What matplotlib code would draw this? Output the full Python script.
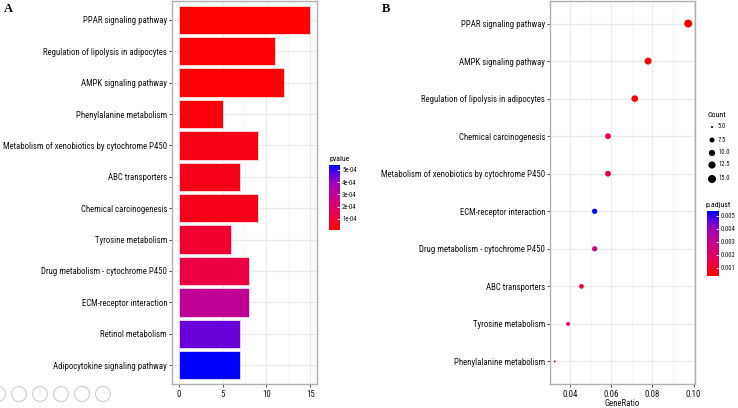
import numpy as np
import matplotlib
matplotlib.use("Agg")
from matplotlib import pyplot as plt
from matplotlib import font_manager
from matplotlib.font_manager import FontProperties
from matplotlib.textpath import TextPath
from matplotlib.colors import LinearSegmentedColormap, Normalize
from matplotlib.cm import ScalarMappable
from matplotlib.patches import Circle
from matplotlib.ticker import MultipleLocator

#-------------数据：A 柱状图-------------
termsA = ["PPAR signaling pathway", "Regulation of lipolysis in adipocytes",
          "AMPK signaling pathway", "Phenylalanine metabolism",
          "Metabolism of xenobiotics by cytochrome P450", "ABC transporters",
          "Chemical carcinogenesis", "Tyrosine metabolism",
          "Drug metabolism - cytochrome P450", "ECM-receptor interaction",
          "Retinol metabolism", "Adipocytokine signaling pathway"]
countA = [15, 11, 12, 5, 9, 7, 9, 6, 8, 8, 7, 7]
pvalueA = [1.0e-5, 2.0e-5, 2.0e-5, 3.0e-5, 4.5e-5, 5.0e-5, 5.5e-5, 9.0e-5,
           1.2e-4, 3.0e-4, 4.5e-4, 5.4e-4]
pticks = [1e-4, 2e-4, 3e-4, 4e-4, 5e-4]
pticklabels = ["1e-04", "2e-04", "3e-04", "4e-04", "5e-04"]

#-------------数据：B 气泡图-------------
termsB = ["PPAR signaling pathway", "AMPK signaling pathway",
          "Regulation of lipolysis in adipocytes", "Chemical carcinogenesis",
          "Metabolism of xenobiotics by cytochrome P450", "ECM-receptor interaction",
          "Drug metabolism - cytochrome P450", "ABC transporters",
          "Tyrosine metabolism", "Phenylalanine metabolism"]
ratioB = [0.0974, 0.0779, 0.0714, 0.0584, 0.0584, 0.0519, 0.0519, 0.0455, 0.0390, 0.0325]
countB = [15, 12, 11, 9, 9, 8, 8, 7, 6, 5]
padjB = [0.00036, 0.00040, 0.00050, 0.00140, 0.00140, 0.00536, 0.00260, 0.00120,
         0.00210, 0.00190]
qticks = [0.001, 0.002, 0.003, 0.004, 0.005]
qticklabels = ["0.001", "0.002", "0.003", "0.004", "0.005"]
count_legend = [5.0, 7.5, 10.0, 12.5, 15.0]

#-------------字体：选较窄的字体，并按参考图中最长标签宽度定字号-------------
fnames = {f.name for f in font_manager.fontManager.ttflist}
fam = "Liberation Sans"
for cand in ["Liberation Sans Narrow", "Roboto Condensed", "Open Sans Condensed", "Roboto"]:
    if cand in fnames:
        fam = cand
        break
plt.rcParams["font.family"] = [fam, "DejaVu Sans"]
w10 = TextPath((0, 0), "Metabolism of xenobiotics by cytochrome P450", size=10,
               prop=FontProperties(family=fam)).get_extents().width
fs = 10 * 164.0 / (w10 * 100 / 72)      # 参考图中该标签宽约 165 px

# ggplot 红->蓝 (Lab 插值近似)
cmap = LinearSegmentedColormap.from_list(
    "rb", ["#FF0000", "#E80050", "#C90089", "#9A00C3", "#0000FF"])

W, H = 738, 408
fig = plt.figure(figsize=(W / 100, H / 100), dpi=100)


def fbox(x0, y0, x1, y1):
    return [x0 / W, 1 - y1 / H, (x1 - x0) / W, (y1 - y0) / H]


def style_axes(ax):
    ax.set_facecolor("white")
    for s in ax.spines.values():
        s.set_color("#b0b0b0")
        s.set_linewidth(1.0)
    ax.grid(True, which="major", color="#ebebeb", linewidth=0.8, zorder=0)
    ax.grid(True, which="minor", axis="x", color="#f2f2f2", linewidth=0.5, zorder=0)
    ax.set_axisbelow(True)
    ax.tick_params(axis="both", which="major", length=2, width=0.6, color="#333333",
                   labelsize=fs, labelcolor="#111111", pad=1.5)
    ax.tick_params(axis="x", which="major", pad=2.0)
    ax.tick_params(axis="both", which="minor", length=0)


#-------------A：柱状图-------------
axA = fig.add_axes(fbox(172, 1, 317, 384))
normA = Normalize(vmin=min(pvalueA), vmax=max(pvalueA))
yA = np.arange(len(termsA))
axA.barh(yA, countA, height=0.9, color=cmap(normA(pvalueA)), edgecolor="#fff0f0",
         linewidth=0.5, zorder=2)
axA.set_yticks(yA)
axA.set_yticklabels(termsA)
axA.set_ylim(len(termsA) - 1 + 0.6, -0.6)
axA.set_xlim(-0.75, 15.75)
axA.set_xticks([0, 5, 10, 15])
axA.xaxis.set_minor_locator(MultipleLocator(2.5))
style_axes(axA)

caxA = fig.add_axes(fbox(329, 165, 340, 230))
cbA = fig.colorbar(ScalarMappable(norm=normA, cmap=cmap), cax=caxA)
cbA.set_ticks(pticks)
cbA.set_ticklabels(pticklabels)
cbA.outline.set_visible(False)
caxA.tick_params(length=2, color="white", width=0.6, direction="in", labelsize=fs * 0.75,
                 pad=1.5, labelcolor="#111111")
fig.text(329 / W, 1 - 161 / H, "pvalue", fontsize=fs * 0.9, ha="left", va="baseline")

#-------------B：气泡图-------------
axB = fig.add_axes(fbox(550, 1, 695, 384))
normB = Normalize(vmin=min(padjB), vmax=max(padjB))


def dot_size(c):
    # 面积比例映射，直径 2~8 px
    d_px = 2.0 + 6.0 * np.sqrt((np.asarray(c, dtype=float) - 5.0) / 10.0)
    return (d_px * 0.72) ** 2


yB = np.arange(len(termsB))
axB.scatter(ratioB, yB, s=dot_size(countB), c=cmap(normB(padjB)), linewidths=0, zorder=3)
axB.set_yticks(yB)
axB.set_yticklabels(termsB)
axB.set_ylim(len(termsB) - 1 + 0.6, -0.6)
axB.set_xlim(0.0302, 0.1007)
axB.set_xticks([0.04, 0.06, 0.08, 0.10])
axB.set_xticklabels(["0.04", "0.06", "0.08", "0.10"])
axB.xaxis.set_minor_locator(MultipleLocator(0.01))
style_axes(axB)
axB.set_xlabel("GeneRatio", fontsize=fs, color="#111111", labelpad=0.5)

# Count 图例
axL = fig.add_axes(fbox(704, 120, 738, 185))
axL.set_xlim(0, 34)
axL.set_ylim(185, 120)
axL.axis("off")
yl = [127, 140, 153, 165, 179]
axL.scatter([8] * len(count_legend), yl, s=dot_size(count_legend), color="black", linewidths=0)
for v, y in zip(count_legend, yl):
    axL.text(14, y, "%.1f" % v, fontsize=fs * 0.75, va="center", ha="left", color="#111111")
fig.text(707 / W, 1 - 117 / H, "Count", fontsize=fs * 0.9, ha="left", va="baseline")

caxB = fig.add_axes(fbox(707, 211, 719, 276))
cbB = fig.colorbar(ScalarMappable(norm=normB, cmap=cmap), cax=caxB)
cbB.set_ticks(qticks)
cbB.set_ticklabels(qticklabels)
cbB.outline.set_visible(False)
caxB.tick_params(length=2, color="white", width=0.6, direction="in", labelsize=fs * 0.75,
                 pad=1.5, labelcolor="#111111")
fig.text(705 / W, 1 - 207 / H, "p.adjust", fontsize=fs * 0.9, ha="left", va="baseline")

#-------------面板标签-------------
fig.text(4 / W, 1 - 12 / H, "A", fontsize=9, fontweight="bold",
         family="Liberation Serif", ha="left", va="baseline")
fig.text(382 / W, 1 - 12 / H, "B", fontsize=9, fontweight="bold",
         family="Liberation Serif", ha="left", va="baseline")

#-------------底部工具栏圆圈（截图残留）-------------
axT = fig.add_axes([0, 0, 1, 1], zorder=-1)
axT.set_xlim(0, W)
axT.set_ylim(H, 0)
axT.axis("off")
for cx in [-2, 19, 40, 61, 82, 103]:
    axT.add_patch(Circle((cx, 394), 7.5, fill=False, edgecolor="#cfcfcf", linewidth=0.8))

fig.savefig("out.png", dpi=100)
